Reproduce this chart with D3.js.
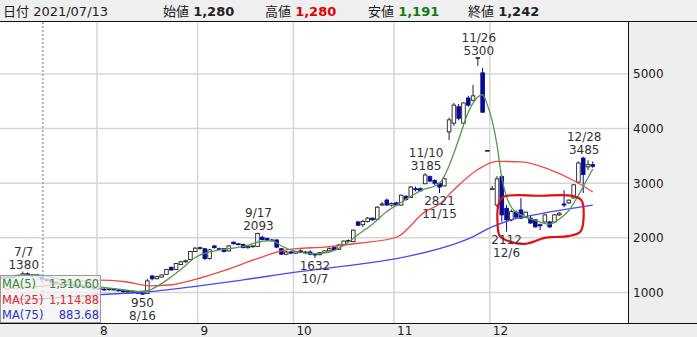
<!DOCTYPE html>
<html>
<head>
<meta charset="utf-8">
<script src="https://cdn.jsdelivr.net/npm/d3@7"></script>
<style>
  body { margin: 0; background: #fff; }
  svg { display: block; font-family: "DejaVu Sans", "Noto Sans CJK JP", sans-serif; }
</style>
</head>
<body>
<div id="chart"></div>
<script>
// trading days, Jul - Dec 2021
const dates = [
  "07/01","07/02","07/05","07/06","07/07","07/08","07/09","07/12","07/13","07/14","07/15","07/16","07/19","07/20","07/21","07/26","07/27","07/28","07/29","07/30",
  "08/02","08/03","08/04","08/05","08/06","08/10","08/11","08/12","08/13","08/16","08/17","08/18","08/19","08/20","08/23","08/24","08/25","08/26","08/27","08/30","08/31",
  "09/01","09/02","09/03","09/06","09/07","09/08","09/09","09/10","09/13","09/14","09/15","09/16","09/17","09/21","09/22","09/24","09/27","09/28","09/29","09/30",
  "10/01","10/04","10/05","10/06","10/07","10/08","10/11","10/12","10/13","10/14","10/15","10/18","10/19","10/20","10/21","10/22","10/25","10/26","10/27","10/28","10/29",
  "11/01","11/02","11/04","11/05","11/08","11/09","11/10","11/11","11/12","11/15","11/16","11/17","11/18","11/19","11/22","11/24","11/25","11/26","11/29","11/30",
  "12/01","12/02","12/03","12/06","12/07","12/08","12/09","12/10","12/13","12/14","12/15","12/16","12/17","12/20","12/21","12/22","12/23","12/24","12/27","12/28","12/29","12/30"
];

const open = [
  1250,1280,1270,1300,1310,1340,1300,1320,1280,1240,1215,1185,1165,1135,1150,1140,1105,1120,1085,1100,
  1070,1060,1050,1065,1045,1030,1010,1020,1000,985,980,1300,1250,1280,1330,1460,1420,1510,1560,1600,1750,
  1820,1800,1620,1850,1800,1800,1760,1920,1890,1880,1820,1840,1840,2010,1990,1960,1960,1800,1700,1740,
  1720,1760,1730,1740,1700,1690,1730,1760,1820,1790,1880,1940,1930,2290,2240,2300,2360,2340,2600,2690,2600,
  2640,2600,2760,2740,2900,2900,2990,3120,3050,3000,2950,3940,4100,4400,4100,4560,4520,5300,5020,3600,
  2900,2600,3120,2540,2330,2470,2510,2380,2360,2330,2240,2290,2290,2290,2420,2620,2640,2730,3020,3460,3300,3340
];
const high = [
  1290,1300,1310,1320,1380,1365,1330,1335,1280,1260,1235,1205,1175,1160,1170,1150,1130,1130,1110,1110,
  1090,1080,1075,1080,1060,1050,1030,1035,1010,995,1250,1320,1300,1330,1430,1470,1540,1580,1600,1760,1830,
  1840,1810,1800,1870,1820,1810,1870,1930,1900,1890,1850,1860,2093,2040,2000,1980,1970,1810,1760,1760,
  1760,1790,1760,1770,1720,1740,1770,1820,1840,1880,1950,1970,2150,2310,2330,2380,2370,2580,2660,2720,2650,
  2660,2790,2780,2950,2940,2920,3185,3140,3070,3010,3100,4200,4470,4450,4480,4600,4800,5300,5110,3600,
  2950,3130,3150,2600,2520,2500,2730,2480,2400,2340,2260,2440,2310,2430,2470,2870,2700,2980,3400,3485,3420,3400
];
const low = [
  1240,1260,1260,1280,1300,1300,1285,1280,1191,1200,1170,1150,1120,1110,1125,1095,1090,1075,1070,1055,
  1040,1030,1030,1040,1020,1000,990,990,970,950,975,1220,1240,1270,1320,1400,1410,1500,1540,1590,1740,
  1780,1590,1600,1800,1780,1730,1750,1880,1860,1810,1800,1820,1830,1950,1940,1930,1810,1690,1680,1700,
  1700,1720,1700,1680,1632,1680,1720,1750,1770,1780,1870,1920,1920,2220,2200,2280,2310,2330,2590,2590,2570,
  2580,2590,2680,2730,2850,2850,2980,3020,2960,2821,2940,3790,4050,4150,4080,4400,4500,5150,4300,3600,
  2900,2560,2295,2112,2300,2360,2350,2360,2260,2190,2140,2280,2180,2270,2400,2560,2620,2720,3000,2820,3240,3280
];
const close = [
  1280,1270,1300,1310,1340,1330,1321,1310,1242,1215,1185,1170,1135,1150,1140,1105,1120,1085,1100,1065,
  1060,1050,1065,1045,1030,1010,1020,1000,985,970,1210,1250,1290,1320,1420,1410,1530,1560,1580,1750,1810,
  1820,1620,1780,1820,1790,1750,1850,1890,1880,1820,1840,1850,2080,1970,1960,1950,1830,1700,1740,1720,
  1750,1730,1740,1700,1690,1730,1760,1800,1780,1870,1940,1950,2140,2230,2300,2360,2330,2560,2620,2600,2630,
  2600,2780,2700,2930,2880,2860,3150,3040,3000,2930,3080,4160,4430,4190,4470,4430,4600,5300,4300,3600,
  2900,3080,2420,2330,2480,2380,2360,2470,2270,2200,2220,2420,2200,2420,2450,2600,2690,2970,3370,3160,3340,3310
];

// moving averages at sample days
const ma5 = [
  ["07/01",1280],["07/07",1320],["07/13",1311],["07/19",1230],["07/27",1140],["08/02",1100],["08/06",1060],
  ["08/13",1020],["08/17",1030],["08/19",1110],["08/23",1220],["08/26",1420],["08/31",1640],["09/03",1740],
  ["09/09",1800],["09/15",1860],["09/17",1920],["09/24",1950],["09/28",1850],["10/01",1750],["10/07",1710],
  ["10/12",1740],["10/15",1860],["10/20",2060],["10/25",2250],["10/28",2480],["11/02",2650],["11/09",2860],
  ["11/15",3000],["11/17",3320],["11/19",3800],["11/24",4300],["11/26",4580],["11/29",4620],["11/30",4430],
  ["12/01",4140],["12/02",3700],["12/03",3100],["12/06",2750],["12/07",2560],["12/09",2420],["12/14",2320],
  ["12/17",2250],["12/21",2340],["12/23",2500],["12/27",2780],["12/29",3100],["12/30",3260]
];
const ma25 = [
  ["07/01",1060],["07/13",1115],["07/21",1190],["08/02",1225],["08/10",1200],["08/18",1120],["08/24",1140],
  ["08/31",1240],["09/08",1400],["09/17",1620],["09/28",1760],["10/01",1800],["10/11",1830],["10/20",1900],
  ["11/01",2010],["11/10",2480],["11/15",2620],["11/18",2880],["11/26",3250],["12/02",3400],["12/09",3390],
  ["12/17",3250],["12/24",3050],["12/30",2840]
];
const ma75 = [
  ["07/01",870],["07/13",884],["08/02",960],["08/16",1000],["08/31",1110],["09/14",1230],["10/01",1370],
  ["10/15",1480],["11/01",1620],["11/15",1800],["11/24",1980],["12/01",2200],["12/07",2330],["12/15",2440],
  ["12/23",2530],["12/30",2600]
];

const priceTicks = [1000, 2000, 3000, 4000, 5000];
const highMarks = [["07/07",1380],["09/17",2093],["11/10",3185],["11/26",5300],["12/28",3485]];
const lowMarks = [["08/16",950],["10/07",1632],["11/15",2821],["12/06",2112]];
const selectedDay = "07/13";
const maLegend = [["MA(5)","1,310.60"],["MA(25)","1,114.88"],["MA(75)","883.68"]];

// hand-drawn red loop: [trading-day index, price]
const loopPts = [
  [104.3,2750],[112,2770],[118.7,2768],[120.6,2690],[121.1,2420],[120.4,2110],[117.8,2030],
  [115.1,2015],[113,2000],[108.9,1890],[105.7,1930],[103.6,2030],[103.1,2300],[103.3,2600]
];

const W = 697, H = 337;
const plotRight = 628, plotTop = 22, plotBottom = 323;

const svg = d3.select("#chart").append("svg")
  .attr("width", W).attr("height", H);

svg.append("rect").attr("width", W).attr("height", H).attr("fill", "#fff");

const xi = d3.scaleLinear().domain([0, dates.length - 1]).range([3.6, 592.8]);
const y = d3.scaleLinear().domain([0, 5000]).range([347, 74]);
const idx = d => dates.indexOf(d);

svg.append("clipPath").attr("id", "plotclip")
  .append("rect").attr("x", 0).attr("y", plotTop).attr("width", plotRight).attr("height", plotBottom - plotTop);

const plot = svg.append("g").attr("clip-path", "url(#plotclip)");

// horizontal grid
plot.selectAll("line.hgrid").data(priceTicks).enter().append("line")
  .attr("x1", 0).attr("x2", plotRight)
  .attr("y1", d => y(d)).attr("y2", d => y(d))
  .attr("stroke", "#d6d6d6").attr("stroke-width", 1.5);

// month boundaries
const monthStarts = dates.map((d, i) => i).filter(i => i > 0 && dates[i].slice(0, 2) !== dates[i - 1].slice(0, 2));
plot.selectAll("line.vgrid").data(monthStarts).enter().append("line")
  .attr("x1", i => xi(i - 0.5)).attr("x2", i => xi(i - 0.5))
  .attr("y1", plotTop).attr("y2", plotBottom)
  .attr("stroke", "#d6d6d6").attr("stroke-width", 1.5);

// selected day cursor
plot.append("line")
  .attr("x1", xi(idx(selectedDay)) + 1).attr("x2", xi(idx(selectedDay)) + 1)
  .attr("y1", plotTop).attr("y2", plotBottom)
  .attr("stroke", "#777").attr("stroke-dasharray", "2,2");

// candles
const down = "#0a0a96";
const bw = 3.6;
const candles = plot.selectAll("g.candle").data(dates.map((d, i) => i)).enter().append("g");
candles.append("line")
  .attr("x1", i => xi(i)).attr("x2", i => xi(i))
  .attr("y1", i => y(high[i])).attr("y2", i => y(low[i]))
  .attr("stroke", i => close[i] < open[i] ? down : "#222").attr("stroke-width", 1);
candles.append("rect")
  .attr("x", i => xi(i) - bw / 2)
  .attr("y", i => y(Math.max(open[i], close[i])))
  .attr("width", bw)
  .attr("height", i => Math.max(0.8, Math.abs(y(open[i]) - y(close[i]))))
  .attr("fill", i => close[i] < open[i] ? down : "#fff")
  .attr("stroke", i => close[i] < open[i] ? down : "#222")
  .attr("stroke-width", 0.9);

// moving averages
const maLine = d3.line()
  .x(d => xi(idx(d[0])))
  .y(d => y(d[1]))
  .curve(d3.curveMonotoneX);
[[ma75, "#4a4af0"], [ma25, "#f04848"], [ma5, "#4f9a4f"]].forEach(([s, c]) => {
  plot.append("path").datum(s).attr("d", maLine)
    .attr("fill", "none").attr("stroke", c).attr("stroke-width", 1.3);
});

// red hand-drawn loop
const loopLine = d3.line()
  .x(d => xi(d[0])).y(d => y(d[1]))
  .curve(d3.curveCatmullRomClosed.alpha(0.5));
plot.append("path").datum(loopPts).attr("d", loopLine)
  .attr("fill", "none").attr("stroke", "#e01010").attr("stroke-width", 2.2);

// high / low labels
const fmtDay = d => d.split("/").map(Number).join("/");
const lab = plot.append("g").attr("font-size", 12).attr("fill", "#333").attr("text-anchor", "middle");
highMarks.forEach(([d, v]) => {
  const cx = xi(idx(d)) + 1;
  lab.append("text").attr("x", cx).attr("y", y(v) - 16).text(fmtDay(d));
  lab.append("text").attr("x", cx).attr("y", y(v) - 3).text(v);
});
lowMarks.forEach(([d, v]) => {
  const cx = xi(idx(d));
  lab.append("text").attr("x", cx).attr("y", y(v) + 12).text(v);
  lab.append("text").attr("x", cx).attr("y", y(v) + 25).text(fmtDay(d));
});

// MA legend box
const leg = svg.append("g");
leg.append("rect").attr("x", 0.5).attr("y", 275.5).attr("width", 100).attr("height", 47)
  .attr("fill", "rgba(242,242,242,0.78)").attr("stroke", "#9a9a9a");
const legColors = ["#2e8a2e", "#e0282e", "#3232c8"];
maLegend.forEach(([n, v], k) => {
  leg.append("text").attr("x", 2).attr("y", 288 + k * 15.5).attr("font-size", 11.5)
    .attr("fill", legColors[k]).text(n);
  leg.append("text").attr("x", 99).attr("y", 288 + k * 15.5).attr("font-size", 11.5)
    .attr("text-anchor", "end").attr("textLength", v.length > 6 ? 50 : null)
    .attr("fill", legColors[k]).text(v);
});

// right price panel
svg.append("rect").attr("x", plotRight).attr("y", plotTop).attr("width", W - plotRight).attr("height", plotBottom - plotTop)
  .attr("fill", "#eeeeee");
svg.append("line").attr("x1", plotRight + 0.5).attr("x2", plotRight + 0.5).attr("y1", plotTop).attr("y2", plotBottom)
  .attr("stroke", "#111");
const yAxis = svg.append("g").attr("transform", `translate(${plotRight},0)`)
  .call(d3.axisRight(y).tickValues(priceTicks).tickSize(0).tickPadding(5).tickFormat(d3.format("d")));
yAxis.select(".domain").remove();
yAxis.selectAll("text").attr("font-size", 12).attr("fill", "#222").attr("font-family", "DejaVu Sans");

// bottom month panel
svg.append("rect").attr("x", 0).attr("y", plotBottom).attr("width", W).attr("height", H - plotBottom)
  .attr("fill", "#eeeeee");
svg.append("line").attr("x1", 0).attr("x2", W).attr("y1", plotBottom + 0.5).attr("y2", plotBottom + 0.5)
  .attr("stroke", "#111");
svg.selectAll("text.month").data(monthStarts).enter().append("text")
  .attr("x", i => xi(i - 0.5) + 3).attr("y", 335)
  .attr("font-size", 12).attr("fill", "#222")
  .text(i => +dates[i].slice(0, 2));

// header with the selected day's prices
const si = idx(selectedDay);
const fmt = d3.format(",");
svg.append("rect").attr("width", W).attr("height", 21).attr("fill", "#efefef");
svg.append("line").attr("x1", 0).attr("x2", W).attr("y1", 21.5).attr("y2", 21.5).attr("stroke", "#111");
const hdr = svg.append("g").attr("font-size", 13).attr("fill", "#222");
hdr.append("text").attr("x", 3).attr("y", 16).text("日付 2021/" + selectedDay);
const fields = [
  ["始値", open[si], "#222", 163],
  ["高値", high[si], "#e00000", 265],
  ["安値", low[si], "#137a13", 368],
  ["終値", close[si], "#222", 468]
];
fields.forEach(([n, v, c, x0]) => {
  const t = hdr.append("text").attr("x", x0).attr("y", 16);
  t.append("tspan").text(n + " ");
  t.append("tspan").attr("font-weight", "bold").attr("fill", c).text(fmt(v));
});
</script>
</body>
</html>
